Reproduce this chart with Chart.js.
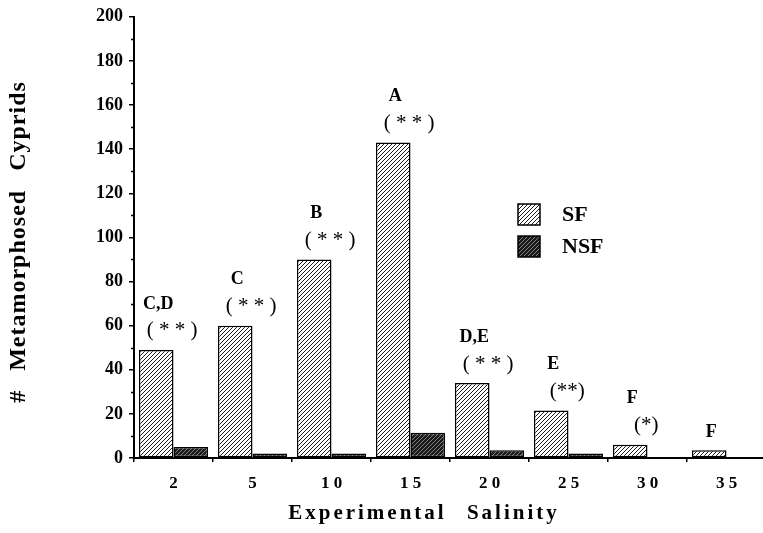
<style>
  * { margin: 0; padding: 0; box-sizing: border-box; }
  body { width: 763px; height: 533px; overflow: hidden; background: #fff; }
  #myChart { display: block; }
</style>

<canvas id="myChart" width="770" height="533"></canvas>

<script src="https://cdn.jsdelivr.net/npm/chart.js/dist/chart.umd.min.js"></script>
<script>
// setup
const salinity = [2, 5, 10, 15, 20, 25, 30, 35];
const sfValues = [49, 60, 90, 143, 34, 21.5, 6, 3.5];
const nsfValues = [5, 2, 2, 11.5, 3.5, 2, 0, 0];
const groupLetters = ['C,D', 'C', 'B', 'A', 'D,E', 'E', 'F', 'F'];
const signif = ['( * * )', '( * * )', '( * * )', '( * * )', '( * * )', '(**)', '(*)', ''];

const serif = "'Liberation Serif', 'Times New Roman', serif";

// hatch fills
function hatch(bg, fg, lw) {
  const c = document.createElement('canvas');
  c.width = 4; c.height = 4;
  const g = c.getContext('2d');
  g.fillStyle = bg;
  g.fillRect(0, 0, 4, 4);
  g.strokeStyle = fg;
  g.lineWidth = lw;
  g.beginPath();
  g.moveTo(-1, 5); g.lineTo(5, -1);
  g.moveTo(-1, 1); g.lineTo(1, -1);
  g.moveTo(3, 5); g.lineTo(5, 3);
  g.stroke();
  return document.getElementById('myChart').getContext('2d').createPattern(c, 'repeat');
}
const sfFill = hatch('#ffffff', '#1a1a1a', 1);
const nsfFill = hatch('#1a1a1a', '#9a9a9a', 0.8);

const extras = {
  id: 'extras',
  afterDraw(chart) {
    const ctx = chart.ctx;
    const y = chart.scales.y;
    const area = chart.chartArea;
    ctx.save();
    // minor ticks
    ctx.strokeStyle = '#000';
    ctx.lineWidth = 1.5;
    for (let v = 10; v < 200; v += 20) {
      const py = Math.round(y.getPixelForValue(v)) + 0.5;
      ctx.beginPath();
      ctx.moveTo(area.left - 3, py);
      ctx.lineTo(area.left, py);
      ctx.stroke();
    }

    // letters above SF bars
    const meta = chart.getDatasetMeta(0);
    ctx.fillStyle = '#000';
    ctx.textAlign = 'center';
    ctx.textBaseline = 'middle';
    meta.data.forEach((bar, i) => {
      const hasStars = signif[i] !== '';
      ctx.font = 'bold 18px ' + serif;
      ctx.fillText(groupLetters[i], bar.x + 2, bar.y - (hasStars ? 46 : 18));
      if (hasStars) {
        ctx.font = '21px ' + serif;
        ctx.fillText(signif[i], bar.x + 16, bar.y - 19);
      }
    });

    // legend
    const ds = chart.data.datasets;
    const lx = 518, ly = [204, 236];
    ds.forEach((d, i) => {
      ctx.fillStyle = d.backgroundColor;
      ctx.fillRect(lx, ly[i], 22, 21);
      ctx.strokeStyle = '#000';
      ctx.lineWidth = 1.5;
      ctx.strokeRect(lx, ly[i], 22, 21);
      ctx.fillStyle = '#000';
      ctx.font = 'bold 22px ' + serif;
      ctx.textAlign = 'left';
      ctx.fillText(d.label, lx + 44, ly[i] + 11);
    });

    // axis titles
    ctx.font = 'bold 21px ' + serif;
    ctx.letterSpacing = '3px';
    ctx.wordSpacing = '12px';
    ctx.textAlign = 'center';
    ctx.textBaseline = 'alphabetic';
    ctx.fillText('Experimental Salinity', 424, 519);

    ctx.font = 'bold 24px ' + serif;
    ctx.letterSpacing = '1px';
    ctx.wordSpacing = '12px';
    ctx.translate(25, 242);
    ctx.rotate(-Math.PI / 2);
    ctx.fillText('# Metamorphosed Cyprids', 0, 0);
    ctx.restore();
  }
};

const data = {
  labels: salinity,
  datasets: [
    { label: 'SF', data: sfValues, backgroundColor: sfFill },
    { label: 'NSF', data: nsfValues, backgroundColor: nsfFill }
  ]
};

const config = {
  type: 'bar',
  data,
  options: {
    responsive: false,
    animation: false,
    devicePixelRatio: 1,
    layout: { padding: { top: 13, right: 4, left: 0, bottom: 0 } },
    datasets: {
      bar: {
        categoryPercentage: 0.875,
        barPercentage: 1,
        borderColor: '#000',
        borderWidth: 1.5,
        borderSkipped: false
      }
    },
    plugins: {
      legend: { display: false },
      tooltip: { enabled: false }
    },
    scales: {
      x: {
        afterFit: (s) => { s.height = 75; },
        grid: { offset: true, drawOnChartArea: false, tickLength: 4, color: '#000', lineWidth: 1.5 },
        border: { display: true, color: '#000', width: 2 },
        ticks: {
          color: '#000',
          padding: 11,
          font: { family: serif, size: 17, weight: 'bold' },
          callback: function (v) { return String(this.getLabelForValue(v)).split('').join(' '); }
        }
      },
      y: {
        min: 0,
        max: 200,
        afterFit: (s) => { s.width = 134; },
        grid: {
          drawOnChartArea: false,
          tickLength: 5,
          lineWidth: 1.5,
          color: (c) => (c.tick && c.tick.value % 20 === 0 ? '#000' : 'rgba(0,0,0,0)')
        },
        border: { display: true, color: '#000', width: 2 },
        ticks: {
          stepSize: 10,
          autoSkip: false,
          color: '#000',
          padding: 6,
          font: { family: serif, size: 18, weight: 'bold' },
          callback: (v) => (v % 20 === 0 ? v : '')
        }
      }
    }
  },
  plugins: [extras]
};

// render init block
const myChart = new Chart(document.getElementById('myChart'), config);
</script>
